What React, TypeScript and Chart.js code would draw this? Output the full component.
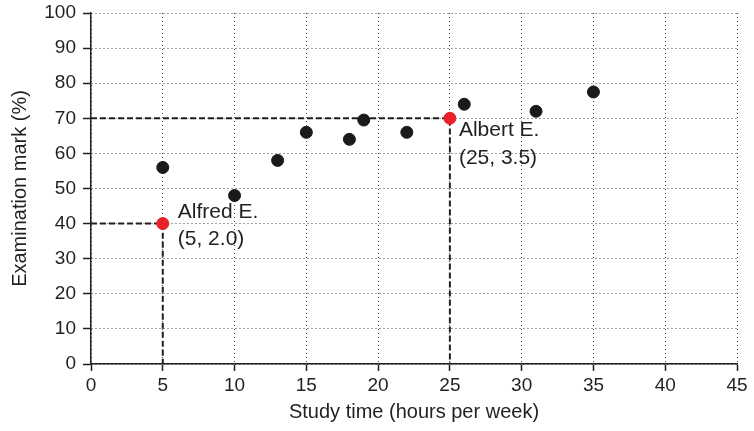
import React, { useEffect, useRef } from "react";
import { Chart, registerables } from "chart.js";

Chart.register(...registerables);

const studyHours = [5, 10, 13, 15, 18, 19, 22, 26, 31, 35];
const examMarks = [56, 48, 58, 66, 64, 69.5, 66, 74, 72, 77.5];

const highlightHours = [5, 25];
const highlightMarks = [40, 70];
const highlightNames = ["Alfred E.", "Albert E."];
const highlightCoords = ["(5, 2.0)", "(25, 3.5)"];

const xTicks = [0, 5, 10, 15, 20, 25, 30, 35, 40, 45];
const yTicks = [0, 10, 20, 30, 40, 50, 60, 70, 80, 90, 100];

const xTitle = "Study time (hours per week)";
const yTitle = "Examination mark (%)";

const FONT = "'Liberation Sans', Arial, Helvetica, sans-serif";
const INK = "#231f20";

const labelPlugin = {
  id: "pointLabels",
  afterDatasetsDraw(chart: any) {
    const ctx = chart.ctx;
    const xs = chart.scales.x;
    const ys = chart.scales.y;
    const offsets = [
      { dx: 15, dy1: -11, dy2: 16 },
      { dx: 9, dy1: 12, dy2: 40 },
    ];
    ctx.save();
    ctx.fillStyle = INK;
    ctx.font = `21px ${FONT}`;
    ctx.textAlign = "left";
    ctx.textBaseline = "middle";
    highlightHours.forEach((h, i) => {
      const px = xs.getPixelForValue(h);
      const py = ys.getPixelForValue(highlightMarks[i]);
      const o = offsets[i];
      ctx.fillText(highlightNames[i], px + o.dx, py + o.dy1);
      ctx.fillText(highlightCoords[i], px + o.dx, py + o.dy2);
    });
    ctx.restore();
  },
};

export default function App() {
  const ref = useRef<HTMLCanvasElement | null>(null);

  useEffect(() => {
    if (!ref.current) return;
    const guides = highlightHours.map((h, i) => ({
      type: "scatter" as const,
      data: [
        { x: 0, y: highlightMarks[i] },
        { x: h, y: highlightMarks[i] },
        { x: h, y: 0 },
      ],
      showLine: true,
      borderColor: INK,
      borderWidth: 2,
      borderDash: [6, 3],
      pointRadius: 0,
      fill: false,
      order: 3,
    }));
    const gridOpts = (len: number) =>
      ({
        color: "#444",
        lineWidth: 1,
        tickBorderDash: [],
        tickColor: INK,
        tickLength: len,
        tickWidth: 1.5,
      } as any);
    const chart = new Chart(ref.current, {
      type: "scatter",
      data: {
        datasets: [
          ...guides,
          {
            data: studyHours.map((h, i) => ({ x: h, y: examMarks[i] })),
            backgroundColor: "#1a1a1a",
            borderColor: "#1a1a1a",
            pointRadius: 6,
            pointHoverRadius: 6,
            order: 1,
          },
          {
            data: highlightHours.map((h, i) => ({ x: h, y: highlightMarks[i] })),
            backgroundColor: "#e8202a",
            borderColor: "#e8202a",
            pointRadius: 6,
            pointHoverRadius: 6,
            order: 0,
          },
        ] as any,
      },
      options: {
        animation: false,
        responsive: false,
        layout: { padding: { top: 13, right: 17, left: 0, bottom: 0 } },
        plugins: { legend: { display: false }, tooltip: { enabled: false } },
        scales: {
          x: {
            type: "linear",
            min: 0,
            max: 45,
            afterBuildTicks: (s: any) => {
              s.ticks = xTicks.map((v) => ({ value: v }));
            },
            afterFit: (s: any) => {
              s.height = 67;
              s.paddingLeft = 0;
              s.paddingRight = 0;
            },
            ticks: {
              color: INK,
              font: { family: FONT, size: 19 },
              padding: 3,
              maxRotation: 0,
            },
            grid: gridOpts(7),
            border: { color: INK, width: 1.5, dash: [1, 3] } as any,
            title: {
              display: true,
              text: xTitle,
              color: INK,
              font: { family: FONT, size: 20 },
              padding: { top: 4, bottom: 7 },
            },
          },
          y: {
            type: "linear",
            min: 0,
            max: 100,
            afterBuildTicks: (s: any) => {
              s.ticks = yTicks.map((v) => ({ value: v }));
            },
            afterFit: (s: any) => {
              s.width = 91;
              s.paddingTop = 0;
              s.paddingBottom = 0;
            },
            ticks: {
              color: INK,
              font: { family: FONT, size: 19 },
              padding: 7,
            },
            grid: gridOpts(8),
            border: { color: INK, width: 1.5, dash: [1, 3] } as any,
            title: {
              display: true,
              text: yTitle,
              color: INK,
              font: { family: FONT, size: 20 },
              padding: { top: 8, bottom: 0 },
            },
          },
        },
      },
      plugins: [labelPlugin],
    });
    return () => chart.destroy();
  }, []);

  return (
    <div style={{ position: "absolute", left: 0, top: 0, width: 754, height: 431, background: "#fff" }}>
      <canvas ref={ref} width={754} height={431} />
    </div>
  );
}
